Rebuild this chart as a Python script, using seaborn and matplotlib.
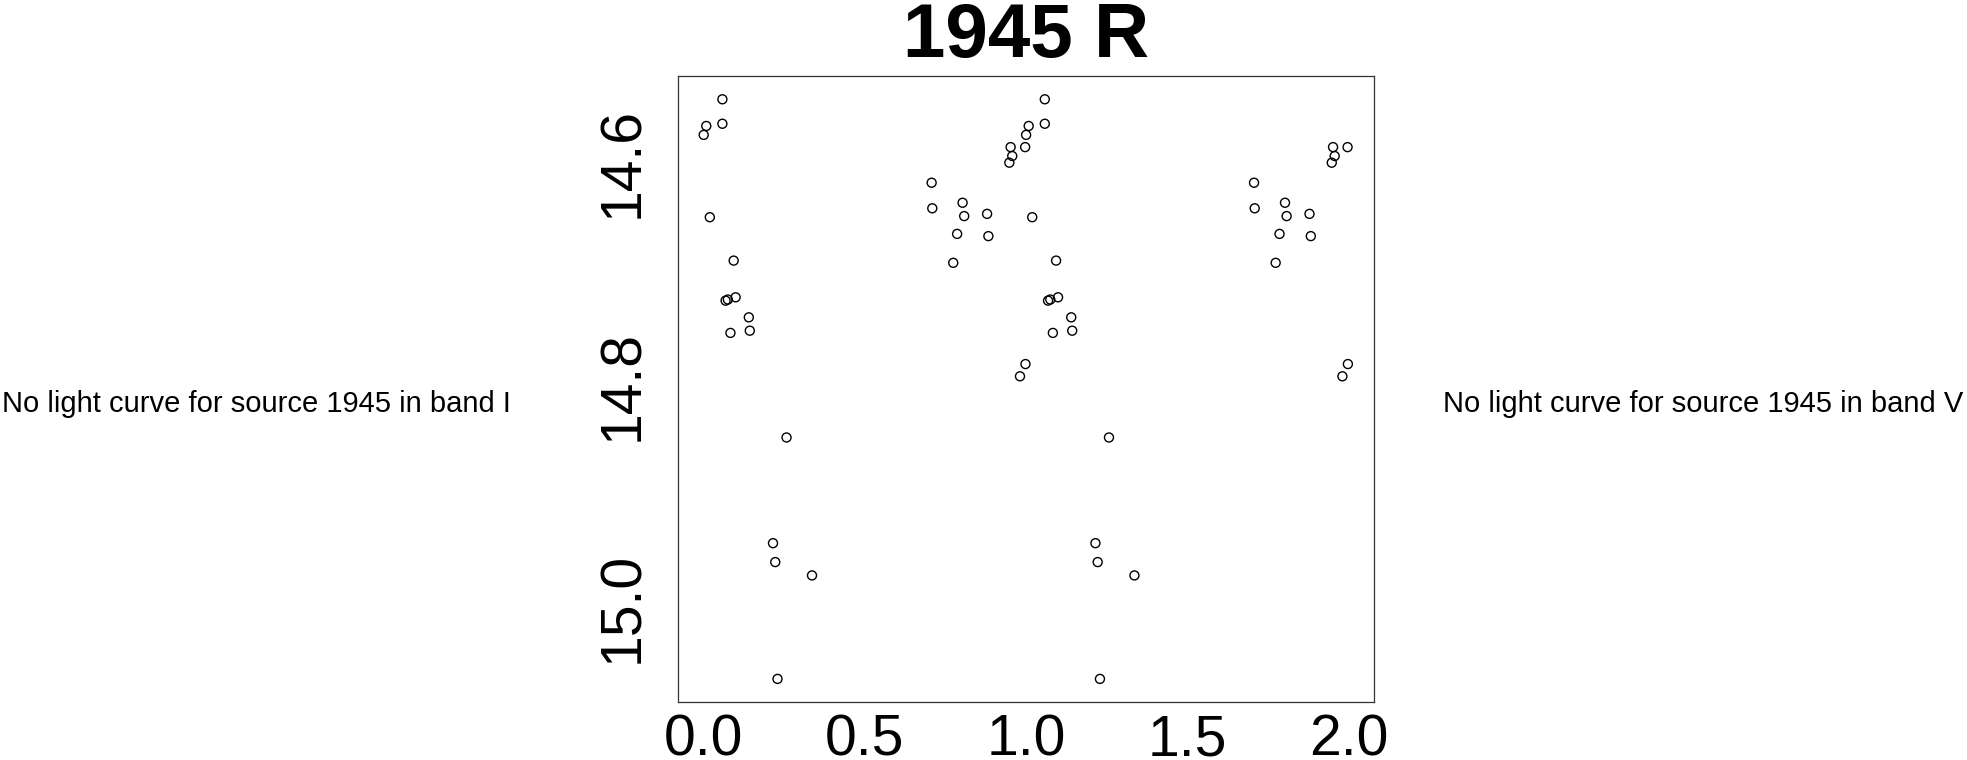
import numpy as np
import pandas as pd
import matplotlib
matplotlib.use("Agg")
import matplotlib.pyplot as plt
import seaborn as sns

# Phase-folded light curve of source 1945, band R (phase in [0, 1))
phase = [0.058, 0.008, 0.000, 0.058, 0.019, 0.093, 0.068, 0.075, 0.099, 0.140,
         0.083, 0.143, 0.215, 0.222, 0.229, 0.257, 0.336, 0.707, 0.709, 0.803,
         0.808, 0.786, 0.774, 0.879, 0.883, 0.948, 0.957, 0.952, 0.997, 0.981,
         0.998]
mag = [14.543, 14.567, 14.575, 14.565, 14.649, 14.688, 14.724, 14.723, 14.721, 14.739,
       14.753, 14.751, 14.942, 14.959, 15.064, 14.847, 14.971, 14.618, 14.641, 14.636,
       14.648, 14.664, 14.690, 14.646, 14.666, 14.600, 14.594, 14.586, 14.586, 14.792,
       14.781]

x_ticks = [0.0, 0.5, 1.0, 1.5, 2.0]
x_tick_labels = ["0.0", "0.5", "1.0", "1.5", "2.0"]
y_ticks = [14.6, 14.7, 14.8, 14.9, 15.0]
y_tick_labels = ["14.6", "", "14.8", "", "15.0"]

title = "1945 R"
left_note = "No light curve for source 1945 in band I"
right_note = "No light curve for source 1945 in band V"

# plot two cycles, as in the original
df = pd.DataFrame({
    "phase": np.concatenate([phase, np.array(phase) + 1.0]),
    "mag": np.concatenate([mag, mag]),
})

sns.set_style("white")
plt.rcParams.update({
    "font.family": ["Liberation Sans", "DejaVu Sans"],
    "text.color": "black",
    "xtick.color": "black",
    "ytick.color": "black",
    "axes.labelcolor": "black",
})

W, H = 1967, 760
fig = plt.figure(figsize=(W / 100, H / 100), dpi=100)
ax = fig.add_axes([677.7 / W, 1 - 701.7 / H, (1374 - 677.7) / W, (701.7 - 75.7) / H])

sns.scatterplot(data=df, x="phase", y="mag", marker="o", s=42,
                facecolor="none", edgecolor="black", linewidth=1.0, ax=ax)

ax.set_xlim(-0.0806, 2.079)
ax.set_ylim(15.0845, 14.5218)
ax.set_xticks(x_ticks)
ax.set_xticklabels(x_tick_labels, fontsize=41)
ax.set_yticks(y_ticks)
ax.set_yticklabels(y_tick_labels, fontsize=41, rotation=90, va="center")
ax.tick_params(axis="x", direction="out", length=8.5, width=0.8, pad=0, color="#333333")
ax.tick_params(axis="y", direction="out", length=8.5, width=0.8, pad=11, color="#333333")
ax.set_xlabel("")
ax.set_ylabel("")
for sp in ax.spines.values():
    sp.set_visible(True)
    sp.set_color("#333333")
    sp.set_linewidth(0.9)

cx = (677.7 + 1374) / 2 / W
fig.text(cx, 1 - 57 / H, title, ha="center", va="baseline", fontsize=55, fontweight="bold")
fig.text(2 / W, 1 - 404 / H, left_note, ha="left", va="center", fontsize=21)
fig.text(1963 / W, 1 - 404 / H, right_note, ha="right", va="center", fontsize=21)

fig.savefig("out.png", dpi=100)
plt.close(fig)
